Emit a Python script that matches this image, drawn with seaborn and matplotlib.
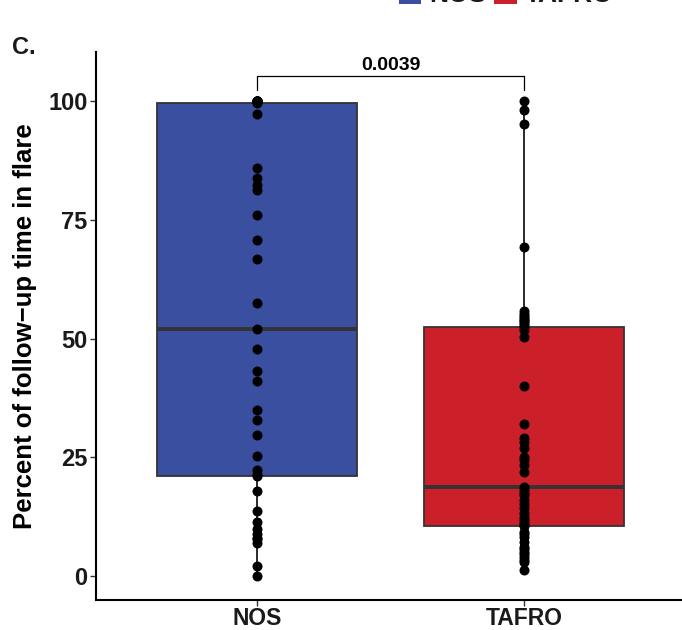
import numpy as np
import pandas as pd
import matplotlib
matplotlib.use("Agg")
import matplotlib.pyplot as plt
import matplotlib.patches as mpatches
import seaborn as sns

# ---- data ----
groups = ["NOS", "TAFRO"]
nos_values = [100, 100, 100, 100, 100, 100, 100, 100, 100, 100,
              99.5, 97.2, 85.8, 83.7, 82.3, 81.3, 76.1, 70.8, 66.8, 57.5,
              52.1,
              47.8, 43.2, 41.0, 34.9, 32.8, 29.8, 25.3, 22.3, 21.6, 21.1,
              18.0, 13.7, 11.5, 10.0, 8.8, 8.0, 7.9, 7.0, 2.2, 0.0]
tafro_values = [100, 98.1, 95.2, 69.3, 55.8, 55.2, 54.8, 54.4, 54.0, 53.6,
                53.2, 52.8, 52.4, 51.8, 50.3, 40.0, 32.1, 29.0, 28.3, 26.9,
                25.1, 24.4, 23.4, 22.0, 18.8, 18.1, 17.6, 17.1, 16.0, 15.2,
                14.3, 13.2, 12.5, 11.8, 11.2, 10.7, 10.5, 9.3, 8.8, 8.3,
                7.2, 6.2, 5.7, 5.1, 4.6, 4.1, 3.4, 3.0, 1.4]
p_value_label = "0.0039"
y_ticks = [0, 25, 50, 75, 100]
colors = {"NOS": "#3A4F9F", "TAFRO": "#CB2029"}

df = pd.DataFrame({
    "group": ["NOS"] * len(nos_values) + ["TAFRO"] * len(tafro_values),
    "value": nos_values + tafro_values,
})

sns.set_theme(style="white")
plt.rcParams["font.family"] = ["Liberation Sans", "DejaVu Sans"]
plt.rcParams["font.weight"] = "bold"

fig = plt.figure(figsize=(6.82, 6.30), dpi=100)
ax = fig.add_axes([96 / 682, 30 / 630, 586 / 682, 548 / 630])

sns.boxplot(data=df, x="group", y="value", hue="group", order=groups,
            palette=colors, saturation=1, width=0.75, linecolor="#333333",
            linewidth=1.3, fliersize=0, whis=1.5, legend=False, ax=ax,
            boxprops={"zorder": 2},
            whiskerprops={"color": "#1a1a1a", "linewidth": 1.3},
            capprops={"linewidth": 0},
            medianprops={"linewidth": 2.8, "color": "#333333"})
sns.stripplot(data=df, x="group", y="value", order=groups, jitter=False,
              color="black", size=7.2, linewidth=0, ax=ax, zorder=5)

ax.set_xlim(-0.603, 1.592)
ax.set_ylim(-5.0, 110.3)
ax.set_yticks(y_ticks)
ax.set_yticklabels([str(t) for t in y_ticks])
ax.set_xlabel("")
ax.set_ylabel("Percent of follow\u2212up time in flare", fontsize=18.5,
              fontweight="bold", color="black")
ax.yaxis.set_label_coords(-0.1, 0.5)

for s in ["top", "right"]:
    ax.spines[s].set_visible(False)
for s in ["left", "bottom"]:
    ax.spines[s].set_color("black")
    ax.spines[s].set_linewidth(1.5)

ax.tick_params(axis="both", which="major", length=4, width=1.0,
               color="#333333", direction="out", left=True, bottom=True)
ax.tick_params(axis="y", labelsize=17, labelcolor="#1a1a1a", pad=2)
ax.tick_params(axis="x", labelsize=16.5, labelcolor="#1a1a1a", pad=1)
for lab in ax.get_xticklabels() + ax.get_yticklabels():
    lab.set_fontweight("bold")

# significance bracket
yb, yd = 105.3, 102.3
ax.plot([0, 0, 1, 1], [yd, yb, yb, yd], color="black", linewidth=0.9,
        clip_on=False)
ax.text(0.5, yb + 0.4, p_value_label, ha="center", va="bottom",
        fontsize=14, fontweight="bold", color="black")

# panel label
fig.text(12 / 682, 1 - 47 / 630, "C.", fontsize=17, fontweight="bold",
         color="#1a1a1a", ha="left", va="center")

# legend (cut off at the top, as in the reference)
handles = [mpatches.Patch(facecolor=colors[g], edgecolor="none", label=g)
           for g in groups]
fig.legend(handles=handles, loc="center", ncol=2,
           bbox_to_anchor=(0.742, 1.0 + 5 / 630), frameon=False,
           prop={"size": 19, "weight": "bold"}, handlelength=0.85,
           handleheight=0.85, handletextpad=0.3, columnspacing=0.3,
           borderpad=0, labelcolor="#1a1a1a")

fig.savefig("out.png", dpi=100)
